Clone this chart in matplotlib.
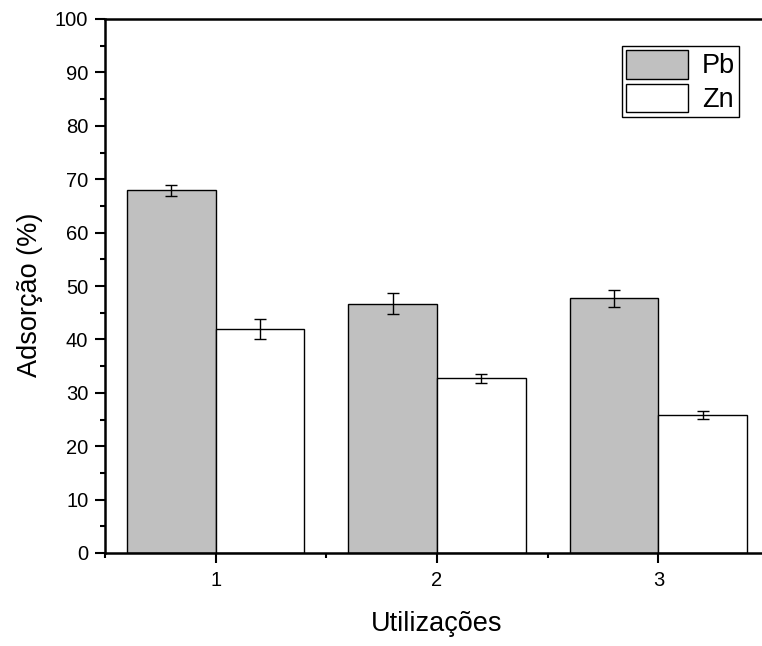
import numpy as np
import matplotlib
matplotlib.use("Agg")
import matplotlib.pyplot as plt
from matplotlib.ticker import MultipleLocator

plt.rcParams['font.family'] = ['Liberation Sans', 'DejaVu Sans']

# Adsorption data per reuse cycle
utilizacoes = [1, 2, 3]
pb_vals = [67.9, 46.7, 47.7]
pb_err = [1.1, 2.0, 1.6]
zn_vals = [41.9, 32.7, 25.8]
zn_err = [1.9, 0.9, 0.75]

fig = plt.figure(figsize=(7.62, 6.46), dpi=100)
ax = fig.add_axes([105 / 762, 1 - 553 / 646, 664 / 762, 534 / 646])

x = np.array(utilizacoes, dtype=float)
w = 0.4
err_kw = dict(ecolor='black', elinewidth=1.0, capsize=4.5, capthick=1.0)
ax.bar(x - w / 2, pb_vals, w, yerr=pb_err, color='#c0c0c0', edgecolor='black',
       linewidth=1.0, label='Pb', error_kw=err_kw)
ax.bar(x + w / 2, zn_vals, w, yerr=zn_err, color='white', edgecolor='black',
       linewidth=1.0, label='Zn', error_kw=err_kw)

ax.set_xlim(0.5, 3.5)
ax.set_ylim(0, 100)
ax.set_xticks(utilizacoes)
ax.xaxis.set_minor_locator(MultipleLocator(0.5))
ax.yaxis.set_major_locator(MultipleLocator(10))
ax.yaxis.set_minor_locator(MultipleLocator(5))
ax.tick_params(which='major', direction='out', length=7, width=1.5, labelsize=14.5, pad=5)
ax.tick_params(axis='x', which='major', pad=6)
ax.tick_params(which='minor', direction='out', length=3.6, width=1.5)
for s in ax.spines.values():
    s.set_linewidth(1.8)

ax.set_xlabel('Utilizações', fontsize=19.5, labelpad=15)
ax.set_ylabel('Adsorção (%)', fontsize=19.5)
ax.yaxis.set_label_coords(-0.093, 0.483)

leg = ax.legend(loc='upper left', bbox_to_anchor=(622 / 762, 1 - 46 / 646),
                bbox_transform=fig.transFigure, fontsize=19.5, fancybox=False,
                edgecolor='black', framealpha=1, handlelength=2.3, handleheight=1.25,
                labelspacing=0.15, borderpad=0.15, handletextpad=0.5, borderaxespad=0)
leg.get_frame().set_linewidth(1.0)

fig.savefig('out.png', dpi=100)
